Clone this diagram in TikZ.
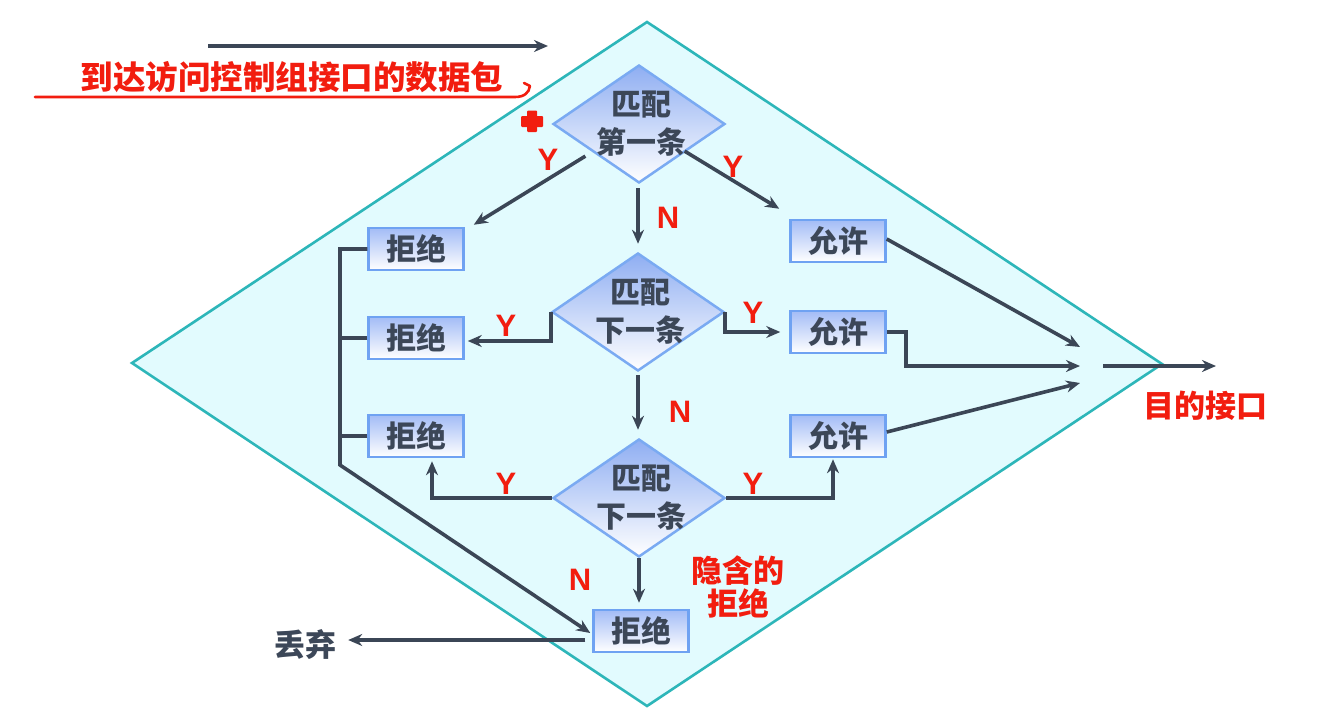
\documentclass[tikz,border=0pt]{standalone}
\usepackage{fontspec}
\setmainfont{Liberation Sans}
\newfontfamily\cjk{Noto Sans CJK SC}
\usetikzlibrary{shapes.geometric,arrows.meta,calc}
\definecolor{arrowc}{HTML}{3B4656}
\definecolor{textc}{HTML}{3C4758}
\definecolor{redc}{HTML}{F21D0F}
\definecolor{tealc}{HTML}{2DB6B9}
\definecolor{bgc}{HTML}{E2FBFE}
\definecolor{boxb}{HTML}{6FA2F2}
\definecolor{boxt}{HTML}{A3BCF6}
\definecolor{diab}{HTML}{7AAAF2}
\definecolor{diat}{HTML}{8FAEF2}
\begin{document}
\begin{tikzpicture}[x=1pt,y=-1pt,
  conn/.style={draw=arrowc, line width=3.6pt, -{Stealth[length=14pt,width=12pt]}},
  plain/.style={draw=arrowc, line width=3.6pt},
  rbox/.style={draw=boxb, line width=2.5pt, top color=boxt, bottom color=white,
    minimum width=95pt, minimum height=42pt, inner sep=0pt,
    font=\cjk\bfseries\fontsize{30}{30}\selectfont, text=textc},
  dia/.style={diamond, draw=diab, line width=2.5pt, top color=diat, bottom color=white,
    minimum width=172pt, minimum height=118pt, inner sep=0pt},
  dtext/.style={align=center, inner sep=0pt, font=\cjk\bfseries\fontsize{30}{38}\selectfont, text=textc},
  yn/.style={font=\bfseries\fontsize{31}{31}\selectfont, text=redc, inner sep=0pt},
  redtext/.style={font=\cjk\bfseries\fontsize{31}{33}\selectfont, text=redc, inner sep=0pt, align=center},
  darktext/.style={font=\cjk\bfseries\fontsize{31}{31}\selectfont, text=textc, inner sep=0pt}
]
\useasboundingbox[fill=white] (0,0) rectangle (1338,712);

% big background diamond
\path[fill=bgc, draw=tealc, line width=2.6pt, line join=miter]
  (647,22) -- (1162,364) -- (647,706) -- (132,363) -- cycle;

% header
\coordinate (hs) at (208,46);
\coordinate (he) at (548,46);
\draw[conn, line width=3.2pt] (hs) -- (he);
\node[redtext, font=\cjk\bfseries\fontsize{32.5}{33}\selectfont] (head) at (292,77) {到达访问控制组接口的数据包};
\draw[redc, line width=2.6pt, line cap=round, line join=round]
  (35,97) -- (515,97) .. controls (524,97) and (529,93) .. (530,86) -- (524,83);
% red cross
\fill[redc, rounded corners=1pt] (521,116) rectangle (543,127);
\fill[redc, rounded corners=1pt] (527,110.5) rectangle (537,132);

% decision diamonds
\node[dia] (d1) at (639,124) {};
\node[dtext] (d1t) at (641,124) {匹配\\第一条};
\node[dia] (d2) at (638,312) {};
\node[dtext] (d2t) at (640,312) {匹配\\下一条};
\node[dia] (d3) at (639,498) {};
\node[dtext] (d3t) at (641,498) {匹配\\下一条};

% reject boxes
\node[rbox] (r1) at (416,249) {拒绝};
\node[rbox] (r2) at (416,338) {拒绝};
\node[rbox] (r3) at (416,436) {拒绝};
\node[rbox] (rb) at (641,631) {拒绝};

% permit boxes
\node[rbox] (a1) at (838,241) {允许};
\node[rbox] (a2) at (838,332) {允许};
\node[rbox] (a3) at (838,436) {允许};

% connectors from first diamond
\draw[conn] ($(d1.south west)+(-10,2)$) -- ($(r1.north east)+(9,-2)$);
\draw[conn] ($(d1.south east)+(2,-3)$) -- ($(a1.north west)+(-10,-10)$);
\draw[conn, shorten <=4pt, shorten >=8pt] (d1.south -| d2.north) -- (d2.north);

% second diamond
\draw[conn, shorten >=3pt] (d2.west) |- ($(r2.east)+(0,3)$);
\draw[conn, shorten >=9pt] (d2.east) |- (a2.west);
\draw[conn, shorten <=3pt, shorten >=8pt] (d2.south) -- (d2.south |- d3.north);

% third diamond
\draw[conn, shorten >=3pt] (d3.west) -| ($(r3.south)+(16,0)$);
\draw[conn, shorten >=1pt] (d3.east) -| ($(a3.south)+(-5,0)$);
\draw[conn, shorten >=6pt] (d3.south) -- (d3.south |- rb.north);

% reject bus to implicit deny
\coordinate (busb) at (340,465);
\draw[conn, line join=miter] (r1.west) -| (busb) -- ($(rb.west)+(-2,2)$);
\draw[plain] (r2.west) -- (r2.west -| busb);
\draw[plain] (r3.west) -- (r3.west -| busb);

% discard
\node[darktext] (drop) at (305,645) {丢弃};
\draw[conn] ($(rb.west)+(-7,9)$) -- ($(drop.east)+(12,-5)$);

% permit to destination
\coordinate (hub) at (1080,366);
\draw[conn] ($(a1.east)+(0,-2)$) -- ($(hub)+(0,-19)$);
\draw[conn] (a2.east) -- ++(19,0) |- (hub);
\draw[conn] ($(a3.east)+(0,-4)$) -- ($(hub)+(0,17)$);
\coordinate (os) at (1103,366);
\coordinate (oe) at (1216,366);
\draw[conn] (os) -- (oe);
\node[redtext] (dest) at (1205,406) {目的接口};

% implicit deny label
\node[redtext] (impl) at (738,587) {隐含的\\拒绝};

% Y / N labels
\node[yn] (y1) at (548,160) {Y};
\node[yn] (y2) at (733,167) {Y};
\node[yn] (n1) at (668,218) {N};
\node[yn] (y3) at (506,326) {Y};
\node[yn] (y4) at (753,313) {Y};
\node[yn] (n2) at (680,412) {N};
\node[yn] (y5) at (506,484) {Y};
\node[yn] (y6) at (753,484) {Y};
\node[yn] (n3) at (580,580) {N};
\end{tikzpicture}
\end{document}
